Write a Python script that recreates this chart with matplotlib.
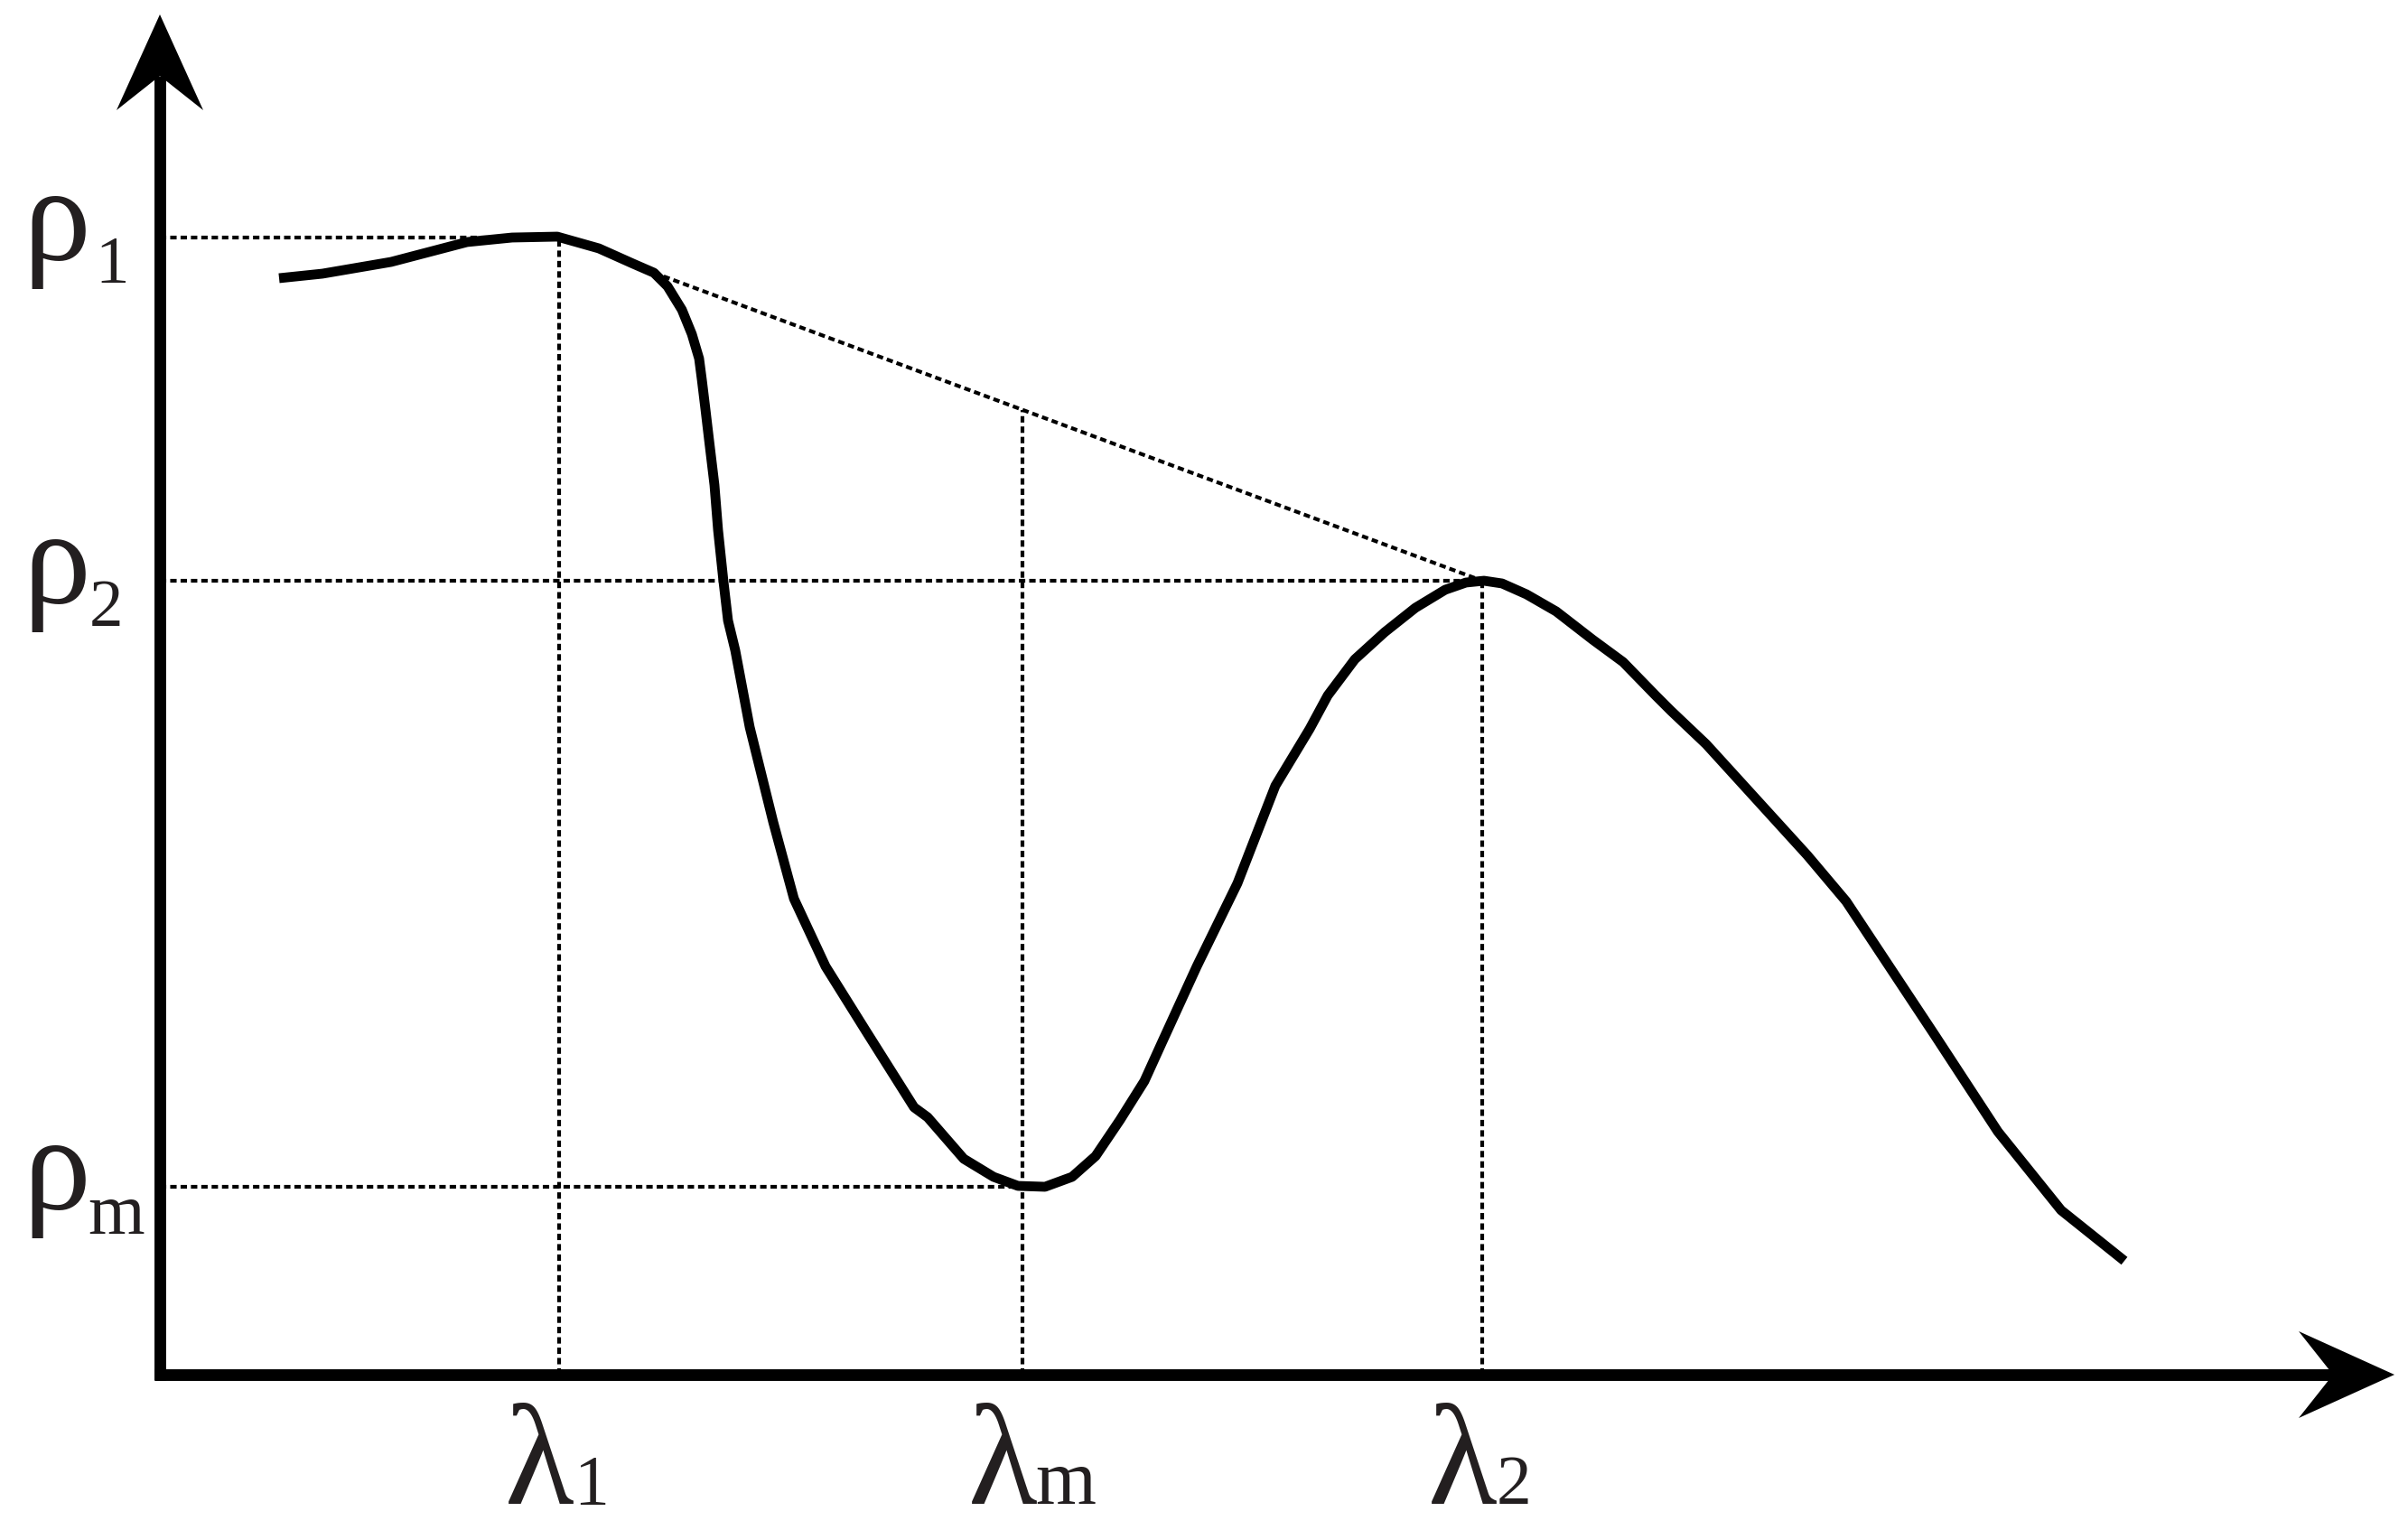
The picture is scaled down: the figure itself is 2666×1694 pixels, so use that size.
"""Schematic of a reflectance spectrum with an absorption feature:
shoulders rho_1 / rho_2 at lambda_1 / lambda_2, minimum rho_m at lambda_m,
continuum line drawn between the two shoulders."""
import numpy as np
import matplotlib as mpl
import matplotlib.pyplot as plt
from matplotlib.patches import Polygon

mpl.rcParams.update({"font.family": ["Liberation Serif", "DejaVu Serif"]})

W, H, DPI = 2666, 1694, 100
X0, Y0 = 177, 1522          # pixel position of the axes origin
INK, TXT = "black", "#231F20"

# curve (x = wavelength, y = reflectance, arbitrary units)
wl = [132, 180, 256, 340, 390, 440, 486, 524, 547, 562, 578, 589, 597, 600,
      604, 608, 614, 618, 624, 629, 637, 653, 679, 702, 737, 782, 835, 850,
      890, 923, 950, 980, 1010, 1036, 1063, 1090, 1110, 1148, 1193, 1235,
      1273, 1293, 1323, 1356, 1390, 1423, 1446, 1466, 1486, 1513, 1546,
      1586, 1620, 1656, 1673, 1712, 1824, 1867, 1965, 2035, 2105, 2175]
refl = [1214, 1219, 1232, 1254, 1259, 1260, 1247, 1230, 1220, 1205, 1179,
        1152, 1125, 1102, 1069, 1035, 985, 935, 878, 835, 802, 717, 612, 527,
        452, 380, 296, 285, 239, 219, 209, 208, 219, 242, 282, 325, 369, 452,
        544, 652, 715, 752, 792, 822, 849, 869, 877, 879, 876, 864, 845, 814,
        789, 752, 735, 698, 575, 524, 376, 269, 182, 126]

# feature points
lam = {"1": 442, "m": 955, "2": 1464}
rho = {"1": 1259, "m": 208, "2": 879}
tangent_start = (547, 1220)   # where the continuum leaves the curve

X_TIP, Y_TIP = 2474, 1506     # arrow tips of the two axes

fig = plt.figure(figsize=(W / DPI, H / DPI), dpi=DPI)
ax = fig.add_axes([0, 0, 1, 1])
ax.set_xlim(-X0, W - X0)
ax.set_ylim(-(H - Y0), Y0)
ax.axis("off")

# --- guide lines ---
dash = dict(color=INK, lw=3.0, ls=(0, (1.7, 1.05)), zorder=1)
for k in ("1", "m", "2"):
    ax.plot([0, lam[k]], [rho[k], rho[k]], **dash)
slope = (rho["2"] - tangent_start[1]) / (lam["2"] - tangent_start[0])
cont_m = tangent_start[1] + slope * (lam["m"] - tangent_start[0])
ax.plot([lam["1"], lam["1"]], [0, rho["1"]], **dash)
ax.plot([lam["m"], lam["m"]], [0, cont_m], **dash)
ax.plot([lam["2"], lam["2"]], [0, rho["2"]], **dash)
ax.plot([tangent_start[0], lam["2"]], [tangent_start[1], rho["2"]], **dash)

# --- spectrum ---
ax.plot(wl, refl, color=INK, lw=7.8, solid_joinstyle="round",
        solid_capstyle="butt", zorder=3)

# --- axes with notched arrow heads ---
HL, HW, NOTCH = 106, 96, 38
ax.plot([0, 0], [-6, Y_TIP - HL + NOTCH], color=INK, lw=9.3,
        solid_capstyle="butt", zorder=4)
ax.plot([-6, X_TIP - HL + NOTCH], [0, 0], color=INK, lw=9.3,
        solid_capstyle="butt", zorder=4)
ax.add_patch(Polygon([(0, Y_TIP), (-HW / 2, Y_TIP - HL),
                      (0, Y_TIP - HL + NOTCH), (HW / 2, Y_TIP - HL)],
                     closed=True, color=INK, lw=0, zorder=5))
ax.add_patch(Polygon([(X_TIP, 0), (X_TIP - HL, HW / 2),
                      (X_TIP - HL + NOTCH, 0), (X_TIP - HL, -HW / 2)],
                     closed=True, color=INK, lw=0, zorder=5))

# --- labels ---
for k, sub_x, sub_dy in (("1", -72, 25), ("2", -78, 25), ("m", -80, 27)):
    ax.text(-152, rho[k] - 25, "ρ", fontsize=108, color=TXT,
            ha="left", va="baseline")
    ax.text(sub_x, rho[k] - 25 - sub_dy, k, fontsize=54 if k != "m" else 58,
            color=TXT, ha="left", va="baseline")

for k, sub_off in (("1", 76), ("m", 74), ("2", 76)):
    ax.text(lam[k] - 60, -143, "λ", fontsize=114, color=TXT,
            ha="left", va="baseline")
    ax.text(lam[k] - 60 + sub_off, -143, k, fontsize=56 if k != "m" else 62,
            color=TXT, ha="left", va="baseline")

fig.savefig("out.png", dpi=DPI, facecolor="white")
